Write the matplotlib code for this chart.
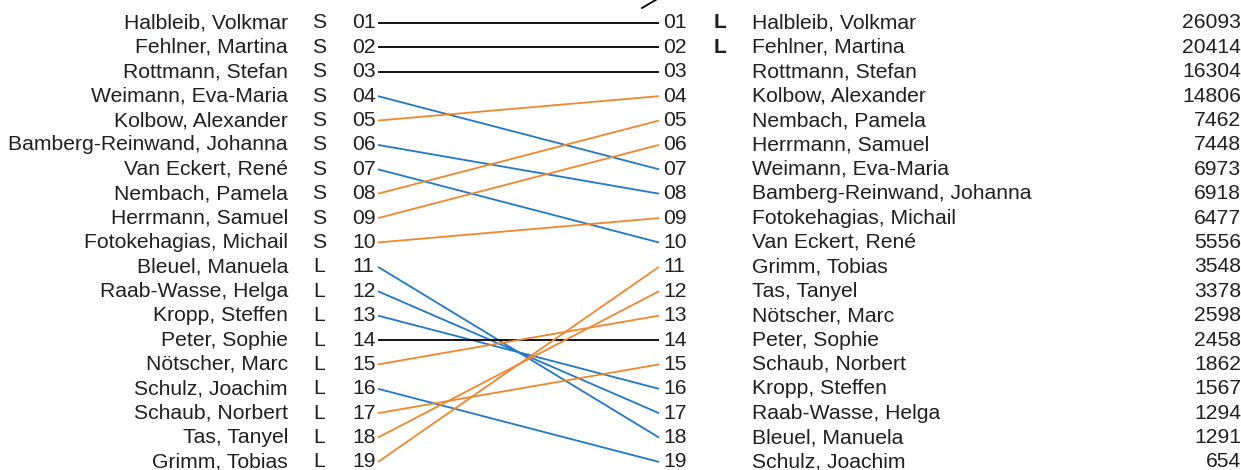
import matplotlib
matplotlib.use("Agg")
import matplotlib.pyplot as plt

# left side: names as ranked before, with group flag
left_names = ["Halbleib, Volkmar", "Fehlner, Martina", "Rottmann, Stefan",
              "Weimann, Eva-Maria", "Kolbow, Alexander", "Bamberg-Reinwand, Johanna",
              "Van Eckert, René", "Nembach, Pamela", "Herrmann, Samuel",
              "Fotokehagias, Michail", "Bleuel, Manuela", "Raab-Wasse, Helga",
              "Kropp, Steffen", "Peter, Sophie", "Nötscher, Marc",
              "Schulz, Joachim", "Schaub, Norbert", "Tas, Tanyel", "Grimm, Tobias"]
left_flags = ["S"] * 10 + ["L"] * 9

# right side: new ranking with values
right_names = ["Halbleib, Volkmar", "Fehlner, Martina", "Rottmann, Stefan",
               "Kolbow, Alexander", "Nembach, Pamela", "Herrmann, Samuel",
               "Weimann, Eva-Maria", "Bamberg-Reinwand, Johanna", "Fotokehagias, Michail",
               "Van Eckert, René", "Grimm, Tobias", "Tas, Tanyel", "Nötscher, Marc",
               "Peter, Sophie", "Schaub, Norbert", "Kropp, Steffen",
               "Raab-Wasse, Helga", "Bleuel, Manuela", "Schulz, Joachim"]
right_flags = ["L", "L"] + [""] * 17
right_values = [26093, 20414, 16304, 14806, 7462, 7448, 6973, 6918, 6477, 5556,
                3548, 3378, 2598, 2458, 1862, 1567, 1294, 1291, 654]

BLUE = "#1f78c8"
ORANGE = "#ef872d"
TXT = "#231f20"
plt.rcParams['font.family'] = ['Liberation Sans', 'DejaVu Sans']
fs = 15.2

fig = plt.figure(figsize=(12.41, 4.70), dpi=100)
ax = fig.add_axes([0, 0, 1, 1])
ax.set_xlim(0, 1241)
ax.set_ylim(19.33, 0.057)
ax.axis("off")

x_start, x_end = 378, 659
for i, name in enumerate(left_names):
    r_left = i + 1
    r_right = right_names.index(name) + 1
    if r_right < r_left:
        c = ORANGE
    elif r_right > r_left:
        c = BLUE
    else:
        c = "black"
    ax.plot([x_start, x_end], [r_left, r_right], color=c, lw=1.3,
            solid_capstyle="butt")
    ax.text(288, r_left, name, ha="right", va="center", fontsize=fs, color=TXT)
    ax.text(319, r_left, left_flags[i], ha="center", va="center", fontsize=fs,
            color=TXT)
    ax.text(352, r_left, f"{r_left:02d}", ha="left", va="center", fontsize=fs,
            color=TXT)

for i, name in enumerate(right_names):
    r = i + 1
    ax.text(663, r, f"{r:02d}", ha="left", va="center", fontsize=fs, color=TXT)
    if right_flags[i]:
        ax.text(714, r, right_flags[i], ha="left", va="center", fontsize=fs,
                fontweight="bold", color=TXT)
    ax.text(752, r, name, ha="left", va="center", fontsize=fs, color=TXT)
    ax.text(1241, r, str(right_values[i]), ha="right", va="center", fontsize=fs,
            color=TXT)

# small stray stroke at the top
ax.plot([642, 660], [0.385, -0.05], color="black", lw=1.3, clip_on=True)

fig.savefig("out.png", dpi=100)
